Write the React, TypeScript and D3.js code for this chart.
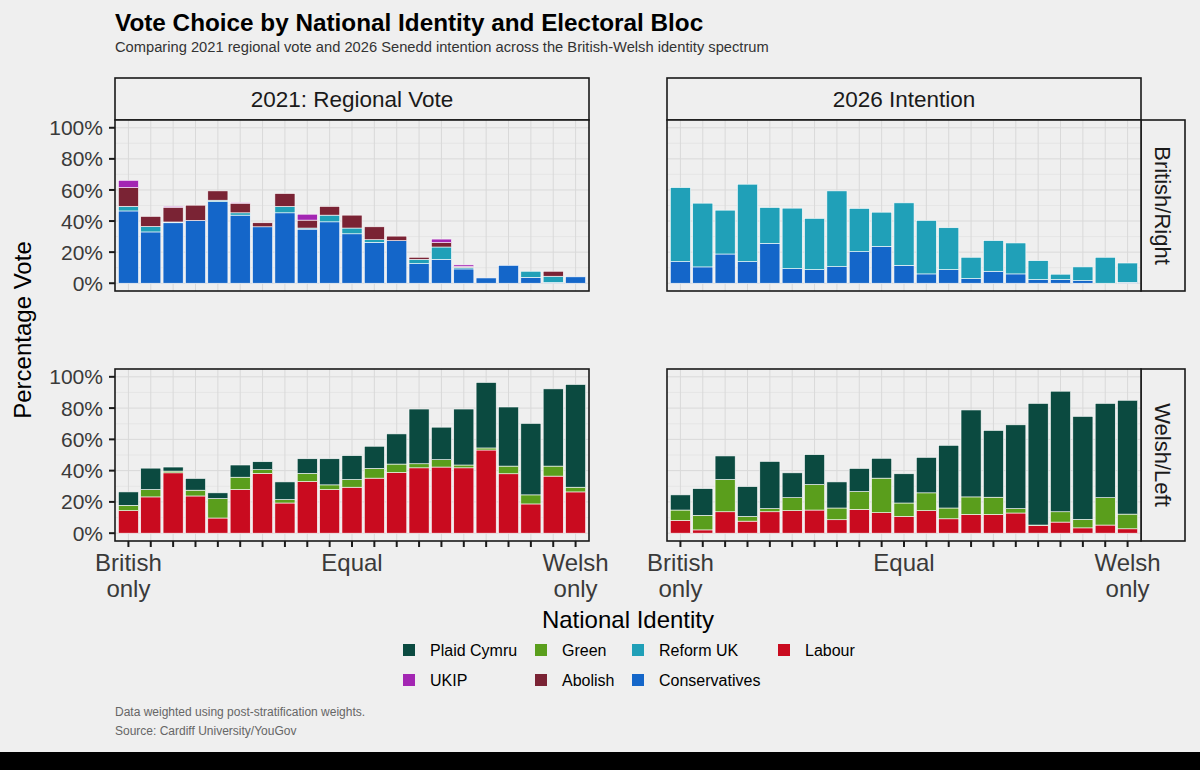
import { useMemo } from 'react';
import * as d3 from 'd3';

// identity positions: 0 = British only, 10 = Equal, 20 = Welsh only
const identity = d3.range(21);
const identityLabels: Record<number, string[]> = { 0: ['British', 'only'], 10: ['Equal'], 20: ['Welsh', 'only'] };

// 2021 regional vote, British/Right bloc
const con2021 = [46.5, 33, 38.9, 40.4, 52.5, 43.8, 36.3, 45.3, 34.8, 39.5, 31.8, 26.3, 27.4, 12.6, 15.4, 9.2, 3.4, 11.5, 3.8, 0.5, 4.1];
const ref2021 = [3, 3.5, 0.5, 0, 0.9, 1.5, 0, 4.1, 0.7, 4.3, 3.7, 1.7, 0, 2.8, 7.9, 1, 0, 0, 3.9, 4, 0];
const abo2021 = [12, 6.5, 9.5, 9.8, 6, 6.2, 2.6, 8.3, 5.1, 5.6, 8.3, 8.3, 2.9, 1.3, 2.8, 0.5, 0, 0, 0, 3.2, 0];
const ukip2021 = [4.7, 0, 0.6, 0, 0, 0.5, 0, 0, 3.8, 0, 0, 0, 0, 0, 2.3, 1.1, 0, 0, 0, 0, 0];

// 2026 intention, British/Right bloc
const con2026 = [13.9, 10.5, 18.8, 13.9, 25.6, 9.4, 8.8, 10.7, 20.3, 23.7, 11.5, 6, 8.8, 3, 7.7, 6, 2.4, 2.4, 1.7, 0, 0.6];
const ref2026 = [47.6, 41, 28.2, 49.8, 23.1, 38.9, 32.9, 48.7, 27.8, 22, 40.2, 34.4, 26.9, 13.7, 19.7, 19.9, 12.1, 3.4, 8.8, 16.7, 12.4];

// 2021 regional vote, Welsh/Left bloc
const lab2021 = [14.4, 23.2, 38.6, 23.8, 9.7, 27.9, 38.2, 19.3, 33, 27.9, 29.4, 35.2, 38.8, 41.8, 42.3, 41.8, 53.2, 38, 18.7, 36.5, 26.4];
const grn2021 = [3.4, 4.7, 1.1, 3.7, 12.4, 7.9, 2.4, 2.2, 5.2, 3, 4.9, 6.2, 5.4, 2.6, 4.7, 1.8, 1.3, 4.9, 5.8, 6.4, 3];
const pc2021 = [8.6, 13.7, 2.6, 7.5, 3.7, 7.8, 5.1, 11.3, 9.4, 16.7, 15.3, 14.2, 19.3, 35, 20.8, 35.8, 41.9, 37.8, 45.7, 49.4, 65.7];

// 2026 intention, Welsh/Left bloc
const lab2026 = [8.2, 2.1, 13.7, 7.7, 13.7, 14.4, 14.8, 8.6, 15.2, 13.1, 10.7, 14.4, 9.2, 12, 12, 12.9, 4.9, 7.1, 3.4, 5.2, 2.8];
const grn2026 = [6.6, 9.3, 20.6, 3, 2, 8.3, 16.3, 7.5, 11.4, 22.1, 8.6, 11.4, 6.9, 11.2, 11, 2.8, 0.3, 6.6, 5.4, 17.5, 9.4];
const pc2026 = [9.7, 17.1, 15.1, 19.1, 30.2, 15.9, 19.1, 16.7, 14.8, 12.7, 18.7, 22.7, 40.1, 55.6, 42.7, 53.6, 77.8, 77.1, 65.9, 60.3, 72.8];

const yTicks = [0, 20, 40, 60, 80, 100];

const partyColors: Record<string, string> = {
  'Plaid Cymru': '#0b4a40',
  'Green': '#5a9e1c',
  'Reform UK': '#20a0b8',
  'Labour': '#c90b1f',
  'UKIP': '#a326b3',
  'Abolish': '#7a2334',
  'Conservatives': '#1466c9',
};
const legendRows = [
  ['Plaid Cymru', 'Green', 'Reform UK', 'Labour'],
  ['UKIP', 'Abolish', 'Conservatives'],
];
const legendColX = [403, 535, 632, 778];

const columns = ['2021: Regional Vote', '2026 Intention'];
const rows = ['British/Right', 'Welsh/Left'];

const panels = [
  { col: 0, row: 0, series: { Conservatives: con2021, 'Reform UK': ref2021, Abolish: abo2021, UKIP: ukip2021 } },
  { col: 1, row: 0, series: { Conservatives: con2026, 'Reform UK': ref2026 } },
  { col: 0, row: 1, series: { Labour: lab2021, Green: grn2021, 'Plaid Cymru': pc2021 } },
  { col: 1, row: 1, series: { Labour: lab2026, Green: grn2026, 'Plaid Cymru': pc2026 } },
];

const colX = [[115, 589], [667, 1141]];
const rowY = [[120, 291], [369, 541]];
const bg = '#efefef';
const font = '"Liberation Sans", Arial, Helvetica, sans-serif';

function Panel({ col, row, series }: { col: number; row: number; series: Record<string, number[]> }) {
  const [x0, x1] = colX[col];
  const [y0, y1] = rowY[row];
  const x = d3.scaleLinear().domain([-0.6, 20.6]).range([x0, x1]);
  const y = d3.scaleLinear().domain([-5, 105]).range([y1, y0]);
  const keys = Object.keys(series);
  const table = identity.map(i => {
    const o: Record<string, number> = { id: i };
    keys.forEach(k => { o[k] = series[k][i]; });
    return o;
  });
  const stacked = d3.stack<Record<string, number>>().keys(keys)(table);
  const bw = x(0.45) - x(-0.45);
  const minor = d3.range(10, 100, 20);

  return (
    <g>
      <rect x={x0} y={y0} width={x1 - x0} height={y1 - y0} fill={bg} />
      {minor.map(v => (
        <line key={'m' + v} x1={x0} x2={x1} y1={y(v)} y2={y(v)} stroke="#e3e3e3" strokeWidth={0.8} />
      ))}
      {yTicks.map(v => (
        <line key={'g' + v} x1={x0} x2={x1} y1={y(v)} y2={y(v)} stroke="#d9d9d9" strokeWidth={1} />
      ))}
      {identity.map(i => (
        <line key={'v' + i} x1={x(i)} x2={x(i)} y1={y0} y2={y1} stroke="#d9d9d9" strokeWidth={1} />
      ))}
      {stacked.map(layer => (
        <g key={layer.key} fill={partyColors[layer.key]}>
          {layer.map((d, i) => d[1] - d[0] > 0 ? (
            <rect key={i} x={x(i) - bw / 2} y={y(d[1])} width={bw} height={y(d[0]) - y(d[1])}
              stroke="#ffffff" strokeWidth={0.6} />
          ) : null)}
        </g>
      ))}
      <rect x={x0} y={y0} width={x1 - x0} height={y1 - y0} fill="none" stroke="#1a1a1a" strokeWidth={1.6} />
      {col === 0 && yTicks.map(v => (
        <g key={'yt' + v}>
          <line x1={x0 - 6} x2={x0} y1={y(v)} y2={y(v)} stroke="#1a1a1a" strokeWidth={2} />
          <text x={x0 - 12} y={y(v)} dy="0.36em" textAnchor="end" fontSize={21} fill="#3a3a3a">{v}%</text>
        </g>
      ))}
      {row === 1 && identity.map(i => (
        <line key={'xt' + i} x1={x(i)} x2={x(i)} y1={y1} y2={y1 + 6} stroke="#1a1a1a" strokeWidth={2} />
      ))}
      {row === 1 && Object.entries(identityLabels).map(([k, lines]) => (
        <text key={'xl' + k} x={x(+k)} y={y1 + 30} textAnchor="middle" fontSize={24} fill="#3a3a3a">
          {lines.map((l, j) => <tspan key={j} x={x(+k)} dy={j === 0 ? 0 : 26}>{l}</tspan>)}
        </text>
      ))}
    </g>
  );
}

export default function App() {
  const panelEls = useMemo(() => panels.map((p, i) => <Panel key={i} {...p} />), []);
  return (
    <svg width={1200} height={770} style={{ position: 'absolute', left: 0, top: 0, display: 'block' }} fontFamily={font}>
      <rect width={1200} height={770} fill={bg} />
      <text x={115} y={31} fontSize={24.3} fontWeight="bold" fill="#000">Vote Choice by National Identity and Electoral Bloc</text>
      <text x={115} y={52} fontSize={14.7} fill="#333">Comparing 2021 regional vote and 2026 Senedd intention across the British-Welsh identity spectrum</text>

      {columns.map((c, i) => (
        <g key={c}>
          <rect x={colX[i][0]} y={78} width={colX[i][1] - colX[i][0]} height={42} fill={bg} stroke="#1a1a1a" strokeWidth={1.6} />
          <text x={(colX[i][0] + colX[i][1]) / 2} y={99} dy="0.36em" textAnchor="middle" fontSize={22.5} fill="#1a1a1a">{c}</text>
        </g>
      ))}
      {rows.map((r, i) => {
        const cy = (rowY[i][0] + rowY[i][1]) / 2;
        return (
          <g key={r}>
            <rect x={1141} y={rowY[i][0]} width={44} height={rowY[i][1] - rowY[i][0]} fill={bg} stroke="#1a1a1a" strokeWidth={1.6} />
            <text transform={`translate(1163,${cy}) rotate(90)`} dy="0.36em" textAnchor="middle" fontSize={22} fill="#1a1a1a">{r}</text>
          </g>
        );
      })}

      {panelEls}

      <text transform="translate(31,330) rotate(-90)" textAnchor="middle" fontSize={24} fill="#000">Percentage Vote</text>
      <text x={628} y={628} textAnchor="middle" fontSize={24} fill="#000">National Identity</text>

      {legendRows.map((row, ri) => row.map((name, ci) => (
        <g key={name} transform={`translate(${legendColX[ci]},${650 + ri * 30})`}>
          <rect x={0} y={-6} width={12} height={12} fill={partyColors[name]} />
          <text x={27} y={0} dy="0.36em" fontSize={16} fill="#000">{name}</text>
        </g>
      )))}

      <text x={115} y={716} fontSize={12} fill="#666">Data weighted using post-stratification weights.</text>
      <text x={115} y={735} fontSize={12} fill="#666">Source: Cardiff University/YouGov</text>

      <rect x={0} y={752} width={1200} height={18} fill="#000" />
    </svg>
  );
}
